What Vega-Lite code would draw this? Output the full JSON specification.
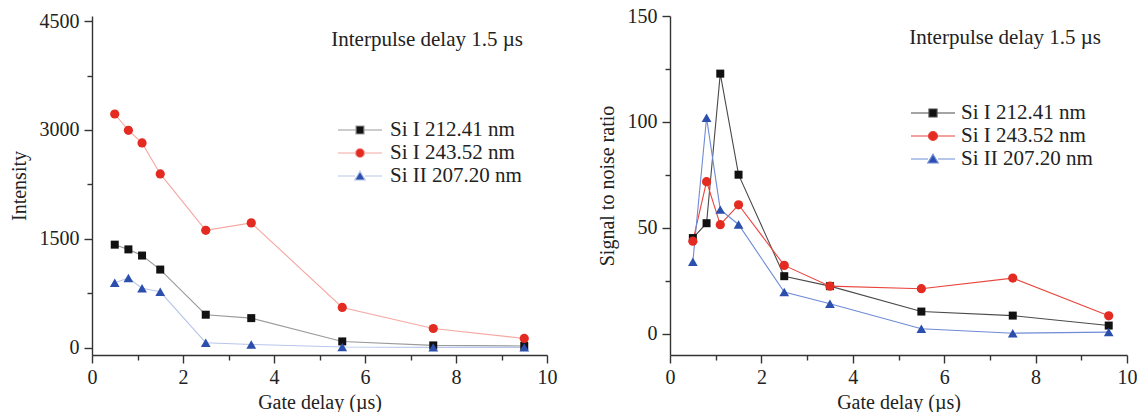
{
  "$schema": "https://vega.github.io/schema/vega-lite/v6.json",
  "background": "white",
  "padding": {"left": 9, "top": 6, "right": 0, "bottom": 0},
  "spacing": 40,
  "config": {
    "view": {"stroke": null},
    "font": "Liberation Serif",
    "axis": {
      "grid": false,
      "domainColor": "#333333",
      "domainWidth": 1.4,
      "tickColor": "#333333",
      "tickWidth": 1.4,
      "labelFont": "Liberation Serif",
      "labelFontSize": 20,
      "labelColor": "#222222",
      "titleFont": "Liberation Serif",
      "titleFontSize": 20,
      "titleFontWeight": "normal",
      "titleColor": "#222222"
    },
    "legend": {
      "labelFont": "Liberation Serif",
      "labelFontSize": 21,
      "labelColor": "#222222"
    }
  },
  "datasets": {
    "intensity": [
      {"x": 0.5, "series": "Si I 212.41 nm", "v": 1420},
      {"x": 0.8, "series": "Si I 212.41 nm", "v": 1355},
      {"x": 1.1, "series": "Si I 212.41 nm", "v": 1270},
      {"x": 1.5, "series": "Si I 212.41 nm", "v": 1077},
      {"x": 2.5, "series": "Si I 212.41 nm", "v": 455},
      {"x": 3.5, "series": "Si I 212.41 nm", "v": 408},
      {"x": 5.5, "series": "Si I 212.41 nm", "v": 87},
      {"x": 7.5, "series": "Si I 212.41 nm", "v": 32},
      {"x": 9.5, "series": "Si I 212.41 nm", "v": 25},
      {"x": 0.5, "series": "Si I 243.52 nm", "v": 3220},
      {"x": 0.8, "series": "Si I 243.52 nm", "v": 2995},
      {"x": 1.1, "series": "Si I 243.52 nm", "v": 2821},
      {"x": 1.5, "series": "Si I 243.52 nm", "v": 2394},
      {"x": 2.5, "series": "Si I 243.52 nm", "v": 1618},
      {"x": 3.5, "series": "Si I 243.52 nm", "v": 1720},
      {"x": 5.5, "series": "Si I 243.52 nm", "v": 555},
      {"x": 7.5, "series": "Si I 243.52 nm", "v": 265},
      {"x": 9.5, "series": "Si I 243.52 nm", "v": 128},
      {"x": 0.5, "series": "Si II 207.20 nm", "v": 894},
      {"x": 0.8, "series": "Si II 207.20 nm", "v": 960},
      {"x": 1.1, "series": "Si II 207.20 nm", "v": 820},
      {"x": 1.5, "series": "Si II 207.20 nm", "v": 771},
      {"x": 2.5, "series": "Si II 207.20 nm", "v": 69},
      {"x": 3.5, "series": "Si II 207.20 nm", "v": 45},
      {"x": 5.5, "series": "Si II 207.20 nm", "v": 10},
      {"x": 7.5, "series": "Si II 207.20 nm", "v": 5},
      {"x": 9.5, "series": "Si II 207.20 nm", "v": 5}
    ],
    "snr": [
      {"x": 0.5, "series": "Si I 212.41 nm", "v": 45.2},
      {"x": 0.8, "series": "Si I 212.41 nm", "v": 52.2},
      {"x": 1.1, "series": "Si I 212.41 nm", "v": 122.8},
      {"x": 1.5, "series": "Si I 212.41 nm", "v": 75.1},
      {"x": 2.5, "series": "Si I 212.41 nm", "v": 27.2},
      {"x": 3.5, "series": "Si I 212.41 nm", "v": 22.5},
      {"x": 5.5, "series": "Si I 212.41 nm", "v": 10.5},
      {"x": 7.5, "series": "Si I 212.41 nm", "v": 8.6},
      {"x": 9.6, "series": "Si I 212.41 nm", "v": 3.9},
      {"x": 0.5, "series": "Si I 243.52 nm", "v": 43.7},
      {"x": 0.8, "series": "Si I 243.52 nm", "v": 71.8},
      {"x": 1.1, "series": "Si I 243.52 nm", "v": 51.5},
      {"x": 1.5, "series": "Si I 243.52 nm", "v": 60.9},
      {"x": 2.5, "series": "Si I 243.52 nm", "v": 32.3},
      {"x": 3.5, "series": "Si I 243.52 nm", "v": 22.5},
      {"x": 5.5, "series": "Si I 243.52 nm", "v": 21.3},
      {"x": 7.5, "series": "Si I 243.52 nm", "v": 26.3},
      {"x": 9.6, "series": "Si I 243.52 nm", "v": 8.5},
      {"x": 0.5, "series": "Si II 207.20 nm", "v": 34},
      {"x": 0.8, "series": "Si II 207.20 nm", "v": 102},
      {"x": 1.1, "series": "Si II 207.20 nm", "v": 58.6},
      {"x": 1.5, "series": "Si II 207.20 nm", "v": 51.6},
      {"x": 2.5, "series": "Si II 207.20 nm", "v": 19.7},
      {"x": 3.5, "series": "Si II 207.20 nm", "v": 14.2},
      {"x": 5.5, "series": "Si II 207.20 nm", "v": 2.4},
      {"x": 7.5, "series": "Si II 207.20 nm", "v": 0.3},
      {"x": 9.6, "series": "Si II 207.20 nm", "v": 0.8}
    ]
  },
  "resolve": {
    "scale": {"fill": "independent", "stroke": "independent", "shape": "independent"}
  },
  "hconcat": [
    {
      "width": 455,
      "height": 339,
      "data": {"name": "intensity"},
      "title": {
        "text": "Interpulse delay 1.5 µs",
        "anchor": "end",
        "orient": "top",
        "frame": "group",
        "offset": -39,
        "dx": -24,
        "font": "Liberation Serif",
        "fontSize": 21,
        "fontWeight": "normal",
        "color": "#222222"
      },
      "encoding": {
        "x": {
          "field": "x",
          "type": "quantitative",
          "title": "Gate delay (µs)",
          "scale": {"domain": [0, 10], "nice": false, "zero": false},
          "axis": {
            "values": [0, 1, 2, 3, 4, 5, 6, 7, 8, 9, 10],
            "labelExpr": "datum.value % 2 === 0 ? datum.label : ''",
            "tickSize": {"condition": {"test": "datum.value % 2 === 0", "value": 8}, "value": 5},
            "labelPadding": 4,
            "titlePadding": 5,
            "labelFlush": false
          }
        },
        "y": {
          "field": "v",
          "type": "quantitative",
          "title": "Intensity",
          "scale": {"domain": [-100, 4570], "nice": false, "zero": false},
          "axis": {
            "values": [0, 750, 1500, 2250, 3000, 3750, 4500],
            "labelExpr": "datum.value % 1500 === 0 ? datum.label : ''",
            "format": "d",
            "tickSize": {"condition": {"test": "datum.value % 1500 === 0", "value": 8}, "value": 5},
            "labelPadding": 5,
            "titlePadding": 10,
            "labelFlush": false
          }
        }
      },
      "layer": [
        {
          "mark": {"type": "line", "strokeWidth": 1.1},
          "encoding": {
            "stroke": {
              "field": "series", "type": "nominal",
              "scale": {"domain": ["Si I 212.41 nm", "Si I 243.52 nm", "Si II 207.20 nm"], "range": ["#9a9a9a", "#f5a8a3", "#b9c6ea"]},
              "legend": {"orient": "none", "legendX": 257, "legendY": 103, "title": null, "symbolSize": 400, "symbolStrokeWidth": 1.2, "labelOffset": 19, "rowPadding": 2, "padding": 0}
            }
          }
        },
        {
          "transform": [{"filter": "datum.series === 'Si I 212.41 nm'"}],
          "mark": {"type": "point", "shape": "square", "filled": true, "opacity": 1, "size": 64, "strokeWidth": 0},
          "encoding": {
            "fill": {"field": "series", "type": "nominal", "legend": {"orient": "none", "legendX": 257, "legendY": 103, "title": null, "symbolSize": 400, "symbolStrokeWidth": 1.2, "labelOffset": 19, "rowPadding": 2, "padding": 0}, "scale": {"domain": ["Si I 212.41 nm", "Si I 243.52 nm", "Si II 207.20 nm"], "range": ["#111111", "#e32b22", "#2c4fae"]}}
          }
        },
        {
          "transform": [{"filter": "datum.series === 'Si I 243.52 nm'"}],
          "mark": {"type": "point", "shape": "circle", "filled": true, "opacity": 1, "size": 85, "strokeWidth": 0},
          "encoding": {
            "fill": {"field": "series", "type": "nominal", "legend": {"orient": "none", "legendX": 257, "legendY": 103, "title": null, "symbolSize": 400, "symbolStrokeWidth": 1.2, "labelOffset": 19, "rowPadding": 2, "padding": 0}, "scale": {"domain": ["Si I 212.41 nm", "Si I 243.52 nm", "Si II 207.20 nm"], "range": ["#111111", "#e32b22", "#2c4fae"]}}
          }
        },
        {
          "transform": [{"filter": "datum.series === 'Si II 207.20 nm'"}],
          "mark": {"type": "point", "shape": "triangle-up", "filled": true, "opacity": 1, "size": 95, "strokeWidth": 0},
          "encoding": {
            "fill": {"field": "series", "type": "nominal", "legend": {"orient": "none", "legendX": 257, "legendY": 103, "title": null, "symbolSize": 400, "symbolStrokeWidth": 1.2, "labelOffset": 19, "rowPadding": 2, "padding": 0}, "scale": {"domain": ["Si I 212.41 nm", "Si I 243.52 nm", "Si II 207.20 nm"], "range": ["#111111", "#e32b22", "#2c4fae"]}}
          }
        },
        {
          "transform": [{"filter": "false"}],
          "mark": {"type": "point", "filled": true, "opacity": 1, "strokeWidth": 1.2},
          "encoding": {
            "fill": {
              "field": "series", "type": "nominal",
              "scale": {"domain": ["Si I 212.41 nm", "Si I 243.52 nm", "Si II 207.20 nm"], "range": ["#111111", "#e32b22", "#2c4fae"]},
              "legend": {"orient": "none", "legendX": 257, "legendY": 103, "title": null, "symbolSize": 400, "symbolStrokeWidth": 1.2, "labelOffset": 19, "rowPadding": 2, "padding": 0}
            },
            "stroke": {
              "field": "series", "type": "nominal",
              "scale": {"domain": ["Si I 212.41 nm", "Si I 243.52 nm", "Si II 207.20 nm"], "range": ["#9a9a9a", "#f5a8a3", "#b9c6ea"]},
              "legend": {"orient": "none", "legendX": 257, "legendY": 103, "title": null, "symbolSize": 400, "symbolStrokeWidth": 1.2, "labelOffset": 19, "rowPadding": 2, "padding": 0}
            },
            "shape": {
              "field": "series", "type": "nominal",
              "scale": {"domain": ["Si I 212.41 nm", "Si I 243.52 nm", "Si II 207.20 nm"], "range": ["M-2.2,0H-0.4M0.4,0H2.2M-0.4,-0.4H0.4V0.4H-0.4Z", "M-2.2,0H-0.45M0.45,0H2.2M-0.45,0A0.45,0.45,0,1,0,0.45,0A0.45,0.45,0,1,0,-0.45,0Z", "M-2.2,0H-0.5M0.5,0H2.2M0,-0.48L0.52,0.4H-0.52Z"]},
              "legend": {"orient": "none", "legendX": 257, "legendY": 103, "title": null, "symbolSize": 400, "symbolStrokeWidth": 1.2, "labelOffset": 19, "rowPadding": 2, "padding": 0}
            }
          }
        }
      ]
    },
    {
      "width": 457,
      "height": 339,
      "data": {"name": "snr"},
      "title": {
        "text": "Interpulse delay 1.5 µs",
        "anchor": "end",
        "orient": "top",
        "frame": "group",
        "offset": -42,
        "dx": -26,
        "font": "Liberation Serif",
        "fontSize": 21,
        "fontWeight": "normal",
        "color": "#222222"
      },
      "encoding": {
        "x": {
          "field": "x",
          "type": "quantitative",
          "title": "Gate delay (µs)",
          "scale": {"domain": [0, 10], "nice": false, "zero": false},
          "axis": {
            "values": [0, 1, 2, 3, 4, 5, 6, 7, 8, 9, 10],
            "labelExpr": "datum.value % 2 === 0 ? datum.label : ''",
            "tickSize": {"condition": {"test": "datum.value % 2 === 0", "value": 8}, "value": 5},
            "labelPadding": 4,
            "titlePadding": 5,
            "labelFlush": false
          }
        },
        "y": {
          "field": "v",
          "type": "quantitative",
          "title": "Signal to noise ratio",
          "scale": {"domain": [-10, 150], "nice": false, "zero": false},
          "axis": {
            "values": [0, 25, 50, 75, 100, 125, 150],
            "labelExpr": "datum.value % 50 === 0 ? datum.label : ''",
            "tickSize": {"condition": {"test": "datum.value % 50 === 0", "value": 8}, "value": 5},
            "labelPadding": 5,
            "titlePadding": 10,
            "labelFlush": false
          }
        }
      },
      "layer": [
        {
          "mark": {"type": "line", "strokeWidth": 1.1},
          "encoding": {
            "stroke": {
              "field": "series", "type": "nominal",
              "scale": {"domain": ["Si I 212.41 nm", "Si I 243.52 nm", "Si II 207.20 nm"], "range": ["#4a4a4a", "#e8453e", "#6f8bd6"]},
              "legend": {"orient": "none", "legendX": 252, "legendY": 86, "title": null, "symbolSize": 400, "symbolStrokeWidth": 1.2, "labelOffset": 17, "rowPadding": 2, "padding": 0}
            }
          }
        },
        {
          "transform": [{"filter": "datum.series === 'Si I 212.41 nm'"}],
          "mark": {"type": "point", "shape": "square", "filled": true, "opacity": 1, "size": 64, "strokeWidth": 0},
          "encoding": {
            "fill": {"field": "series", "type": "nominal", "legend": {"orient": "none", "legendX": 252, "legendY": 86, "title": null, "symbolSize": 400, "symbolStrokeWidth": 1.2, "labelOffset": 17, "rowPadding": 2, "padding": 0}, "scale": {"domain": ["Si I 212.41 nm", "Si I 243.52 nm", "Si II 207.20 nm"], "range": ["#111111", "#e32b22", "#2c4fae"]}}
          }
        },
        {
          "transform": [{"filter": "datum.series === 'Si I 243.52 nm'"}],
          "mark": {"type": "point", "shape": "circle", "filled": true, "opacity": 1, "size": 85, "strokeWidth": 0},
          "encoding": {
            "fill": {"field": "series", "type": "nominal", "legend": {"orient": "none", "legendX": 252, "legendY": 86, "title": null, "symbolSize": 400, "symbolStrokeWidth": 1.2, "labelOffset": 17, "rowPadding": 2, "padding": 0}, "scale": {"domain": ["Si I 212.41 nm", "Si I 243.52 nm", "Si II 207.20 nm"], "range": ["#111111", "#e32b22", "#2c4fae"]}}
          }
        },
        {
          "transform": [{"filter": "datum.series === 'Si II 207.20 nm'"}],
          "mark": {"type": "point", "shape": "triangle-up", "filled": true, "opacity": 1, "size": 95, "strokeWidth": 0},
          "encoding": {
            "fill": {"field": "series", "type": "nominal", "legend": {"orient": "none", "legendX": 252, "legendY": 86, "title": null, "symbolSize": 400, "symbolStrokeWidth": 1.2, "labelOffset": 17, "rowPadding": 2, "padding": 0}, "scale": {"domain": ["Si I 212.41 nm", "Si I 243.52 nm", "Si II 207.20 nm"], "range": ["#111111", "#e32b22", "#2c4fae"]}}
          }
        },
        {
          "transform": [{"filter": "false"}],
          "mark": {"type": "point", "filled": true, "opacity": 1, "strokeWidth": 1.2},
          "encoding": {
            "fill": {
              "field": "series", "type": "nominal",
              "scale": {"domain": ["Si I 212.41 nm", "Si I 243.52 nm", "Si II 207.20 nm"], "range": ["#111111", "#e32b22", "#2c4fae"]},
              "legend": {"orient": "none", "legendX": 252, "legendY": 86, "title": null, "symbolSize": 400, "symbolStrokeWidth": 1.2, "labelOffset": 17, "rowPadding": 2, "padding": 0}
            },
            "stroke": {
              "field": "series", "type": "nominal",
              "scale": {"domain": ["Si I 212.41 nm", "Si I 243.52 nm", "Si II 207.20 nm"], "range": ["#4a4a4a", "#e8453e", "#6f8bd6"]},
              "legend": {"orient": "none", "legendX": 252, "legendY": 86, "title": null, "symbolSize": 400, "symbolStrokeWidth": 1.2, "labelOffset": 17, "rowPadding": 2, "padding": 0}
            },
            "shape": {
              "field": "series", "type": "nominal",
              "scale": {"domain": ["Si I 212.41 nm", "Si I 243.52 nm", "Si II 207.20 nm"], "range": ["M-2.2,0H-0.4M0.4,0H2.2M-0.4,-0.4H0.4V0.4H-0.4Z", "M-2.2,0H-0.45M0.45,0H2.2M-0.45,0A0.45,0.45,0,1,0,0.45,0A0.45,0.45,0,1,0,-0.45,0Z", "M-2.2,0H-0.5M0.5,0H2.2M0,-0.48L0.52,0.4H-0.52Z"]},
              "legend": {"orient": "none", "legendX": 252, "legendY": 86, "title": null, "symbolSize": 400, "symbolStrokeWidth": 1.2, "labelOffset": 17, "rowPadding": 2, "padding": 0}
            }
          }
        }
      ]
    }
  ]
}
